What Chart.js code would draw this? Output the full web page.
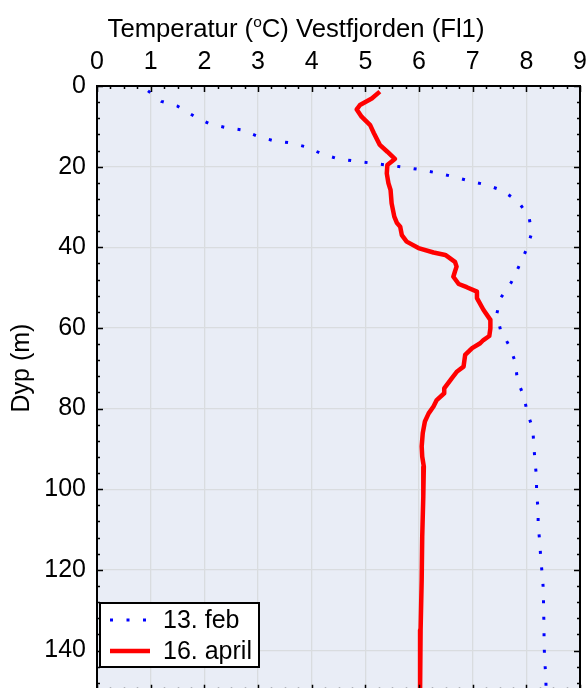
<!DOCTYPE html>
<html>
<head>
<meta charset="utf-8">
<script src="https://cdn.jsdelivr.net/npm/chart.js@4.4.1/dist/chart.umd.min.js"></script>
<style>
  html, body { margin: 0; padding: 0; background: #fff; overflow: hidden; }
  #chart { display: block; }
</style>
</head>
<body>
<canvas id="chart" width="586" height="688"></canvas>
<script>
// tick labels
const xTicks = [0, 1, 2, 3, 4, 5, 6, 7, 8, 9];
const yTicks = [0, 20, 40, 60, 80, 100, 120, 140];
// the picture is cut just above the 150 m line
const yMax = 149.3;
const yFrame = 150;

const febLabel = '13. feb';
const aprLabel = '16. april';

// 13. feb profile (temperature °C, depth m)
const febTemp = [0.95, 1.2, 1.5, 1.8, 2.1, 2.4, 2.7, 3.0, 3.3, 3.6, 3.9, 4.2, 4.5, 4.8, 5.1, 5.4,
  5.75, 6.05, 6.35, 6.65, 6.95, 7.25, 7.55, 7.85, 8.05, 8.1, 8.0, 7.87, 7.72, 7.52, 7.45, 7.52,
  7.69, 7.8, 7.83, 7.95, 8.02, 8.12, 8.14, 8.16, 8.19, 8.19, 8.22, 8.22, 8.25, 8.27, 8.3, 8.32,
  8.32, 8.33, 8.33, 8.34, 8.36, 8.37];
const febDepth = [1.2, 3.8, 5.0, 7.4, 9.4, 10.3, 10.9, 12.5, 13.6, 14.1, 15.1, 16.9, 18.1, 18.6, 19.1, 19.6,
  20.2, 20.8, 21.6, 22.5, 23.6, 24.5, 25.9, 28.7, 32.4, 36.5, 40.6, 44.5, 48.7, 52.6, 56.5, 60.6,
  64.6, 68.7, 72.8, 76.9, 81, 85, 89, 93, 97, 101, 105, 109, 113, 117.5, 121.6, 125.6,
  129.7, 133.7, 137.8, 141.8, 145.9, 150];

// 16. april profile
const aprTemp = [5.27, 5.12, 4.9, 4.84, 4.93, 5.09, 5.16, 5.27, 5.41, 5.55, 5.41, 5.4, 5.43, 5.47,
  5.49, 5.54, 5.59, 5.65, 5.68, 5.77, 5.99, 6.27, 6.49, 6.67, 6.7, 6.67, 6.64, 6.74, 6.89, 7.08,
  7.08, 7.2, 7.33, 7.33, 7.31, 7.2, 7.14, 6.99, 6.86, 6.83, 6.71, 6.61, 6.47, 6.47, 6.33, 6.27,
  6.18, 6.11, 6.07, 6.05, 6.06, 6.09, 6.08, 6.06, 6.05, 6.03, 6.02];
const aprDepth = [1.4, 3.1, 4.7, 5.8, 7.6, 9.7, 11.7, 14.6, 16.3, 18.1, 19.6, 21.7, 24.1, 25.8,
  29.1, 32.4, 34.0, 34.9, 37.0, 38.6, 40.2, 41.3, 41.9, 43.6, 44.8, 46.0, 47.3, 49.1, 49.9, 51.0,
  52.6, 55.5, 58.0, 60.1, 62.0, 63.0, 63.8, 65.0, 66.7, 69.6, 70.8, 72.5, 75.0, 76.2, 77.9, 79.5,
  81.2, 83.2, 86.1, 89.4, 91.9, 94.4, 101.8, 111.8, 122.5, 134.9, 150];

const FONT = '"Liberation Sans", Arial, sans-serif';
const PLOT_BG = '#e9edf6';
const GRID = '#d9dcdf';

const toPoints = (xs, ys) => xs.map((x, i) => ({ x: x, y: ys[i] }));

const noPad = s => { s.paddingTop = 0; s.paddingBottom = 0; s.paddingLeft = 0; s.paddingRight = 0; };

const framePlugin = {
  id: 'frame',
  beforeDraw(chart) {
    const { ctx, chartArea: a } = chart;
    ctx.save();
    ctx.fillStyle = PLOT_BG;
    ctx.fillRect(a.left, a.top, a.right - a.left, a.bottom - a.top);
    ctx.restore();
  },
  afterDraw(chart) {
    const { ctx, chartArea: a, scales } = chart;
    const xs = scales.x, ys = scales.y;
    const bottom = ys.getPixelForValue(yFrame);
    ctx.save();

    // inward ticks (major + minor)
    ctx.strokeStyle = '#000';
    ctx.lineWidth = 1.5;
    ctx.beginPath();
    for (let i = 0; i <= 36; i++) {
      const px = Math.round(xs.getPixelForValue(i / 4)) + 0.5;
      const len = i % 4 === 0 ? 6 : 3;
      ctx.moveTo(px, a.top); ctx.lineTo(px, a.top + len);
      ctx.moveTo(px, bottom); ctx.lineTo(px, bottom - len);
    }
    for (let d = 0; d <= yFrame; d += 4) {
      const py = Math.round(ys.getPixelForValue(d)) + 0.5;
      const len = d % 20 === 0 ? 6 : 3;
      ctx.moveTo(a.left, py); ctx.lineTo(a.left + len, py);
      ctx.moveTo(a.right, py); ctx.lineTo(a.right - len, py);
    }
    ctx.stroke();

    // frame
    ctx.lineWidth = 2;
    ctx.strokeRect(a.left, a.top, a.right - a.left, bottom - a.top);

    // top title with superscript o
    ctx.fillStyle = '#000';
    ctx.textBaseline = 'alphabetic';
    ctx.textAlign = 'left';
    const parts = [
      { t: 'Temperatur (', size: 25.7, dy: 0 },
      { t: 'o', size: 15.5, dy: -10 },
      { t: 'C) Vestfjorden (Fl1)', size: 25.7, dy: 0 }
    ];
    let total = 0;
    parts.forEach(p => { ctx.font = p.size + 'px ' + FONT; p.w = ctx.measureText(p.t).width; total += p.w; });
    let tx = 296 - total / 2;
    parts.forEach(p => {
      ctx.font = p.size + 'px ' + FONT;
      ctx.fillText(p.t, tx, 37 + p.dy);
      tx += p.w;
    });

    // y axis title
    ctx.save();
    ctx.translate(22, 368);
    ctx.rotate(-Math.PI / 2);
    ctx.textAlign = 'center';
    ctx.textBaseline = 'middle';
    ctx.font = '25px ' + FONT;
    ctx.fillText('Dyp (m)', 0, 0);
    ctx.restore();

    // legend box
    const ds = chart.data.datasets;
    const bx = 100, by = 603, bw = 159, bh = 64;
    ctx.fillStyle = '#fff';
    ctx.fillRect(bx, by, bw, bh);
    ctx.strokeStyle = '#000';
    ctx.lineWidth = 2;
    ctx.strokeRect(bx, by, bw, bh);

    const rows = [ { d: ds[1], y: 620 }, { d: ds[0], y: 651 } ];
    rows.forEach(r => {
      ctx.save();
      ctx.strokeStyle = r.d.borderColor;
      ctx.lineWidth = r.d.borderWidth;
      ctx.setLineDash(r.d.borderDash || []);
      ctx.beginPath();
      ctx.moveTo(110, r.y);
      ctx.lineTo(150, r.y);
      ctx.stroke();
      ctx.restore();
      ctx.fillStyle = '#000';
      ctx.font = '25px ' + FONT;
      ctx.textAlign = 'left';
      ctx.textBaseline = 'middle';
      ctx.fillText(r.d.label, 163, r.y + 1);
    });

    ctx.restore();
  }
};

new Chart(document.getElementById('chart'), {
  type: 'scatter',
  data: {
    datasets: [
      {
        label: aprLabel,
        data: toPoints(aprTemp, aprDepth),
        showLine: true,
        borderColor: '#ff0000',
        borderWidth: 4.5,
        pointRadius: 0,
        tension: 0,
        borderJoinStyle: 'round',
        order: 0
      },
      {
        label: febLabel,
        data: toPoints(febTemp, febDepth),
        showLine: true,
        borderColor: '#0000ff',
        borderWidth: 3,
        borderDash: [3, 13.5],
        pointRadius: 0,
        tension: 0,
        order: 1
      }
    ]
  },
  options: {
    responsive: false,
    animation: false,
    layout: { padding: { left: 0, right: 6, top: 0, bottom: 0 } },
    scales: {
      x: {
        type: 'linear',
        position: 'top',
        min: xTicks[0],
        max: xTicks[xTicks.length - 1],
        afterFit: s => { s.height = 86; noPad(s); },
        afterBuildTicks: s => { s.ticks = xTicks.map(v => ({ value: v })); },
        ticks: { color: '#000', font: { family: FONT, size: 25 }, padding: 9 },
        grid: { color: GRID, lineWidth: 1.3, drawTicks: false },
        border: { display: true, color: '#000', width: 2 }
      },
      y: {
        type: 'linear',
        reverse: true,
        min: 0,
        max: yMax,
        afterFit: s => { s.width = 97; noPad(s); },
        afterBuildTicks: s => { s.ticks = yTicks.map(v => ({ value: v })); },
        ticks: { color: '#000', font: { family: FONT, size: 25 }, padding: 11 },
        grid: { color: GRID, lineWidth: 1.3, drawTicks: false },
        border: { display: true, color: '#000', width: 2 }
      }
    },
    plugins: {
      legend: { display: false },
      tooltip: { enabled: false }
    }
  },
  plugins: [framePlugin]
});
</script>
</body>
</html>
